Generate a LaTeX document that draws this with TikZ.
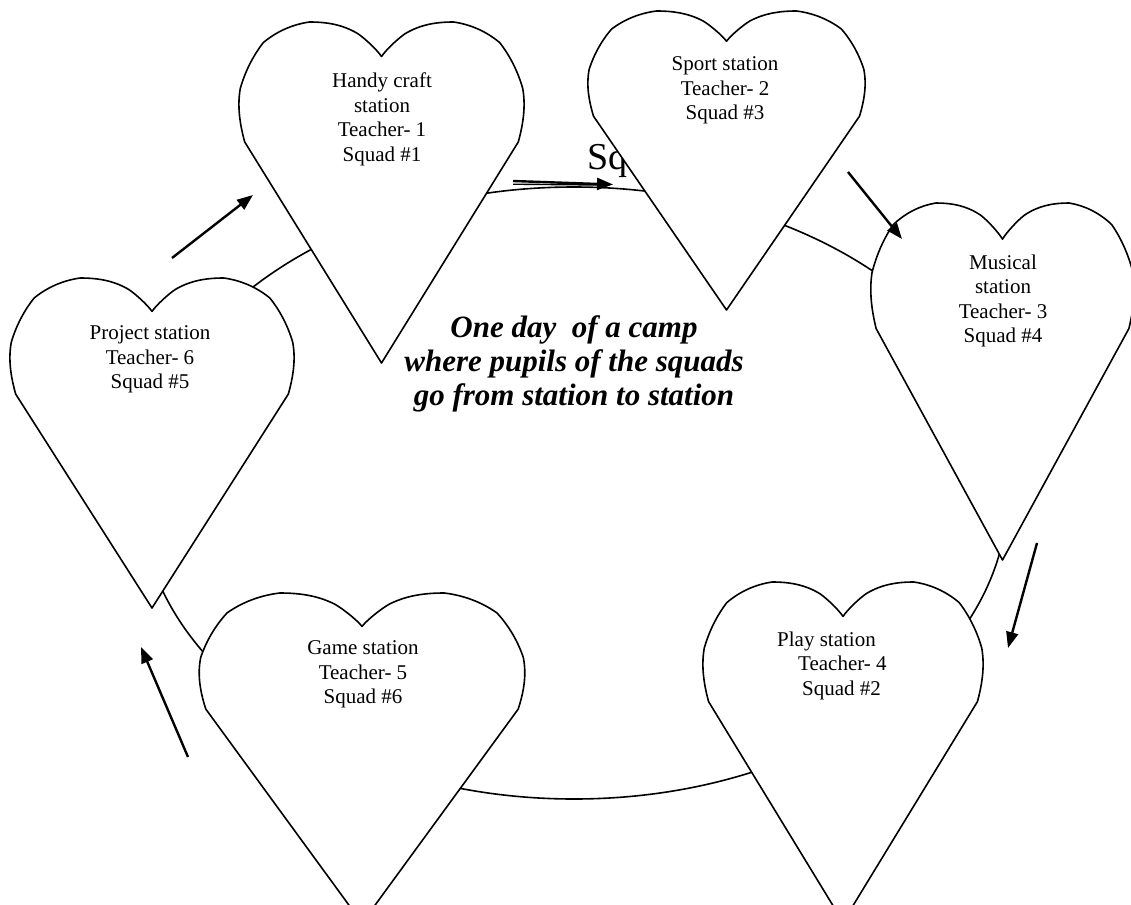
\documentclass[tikz,border=0pt]{standalone}
\usepackage{fontspec}
\setmainfont{Liberation Serif}
\usetikzlibrary{arrows.meta}
\tikzset{
  heartline/.style={draw=black, line width=1.6pt, fill=white, line join=round},
  ring/.style={draw=black, line width=1.6pt},
  arr/.style={line width=2.4pt, -{Triangle[length=16pt,width=12pt]}},
  lbl/.style={inner sep=0pt, align=center, anchor=north, font=\fontsize{21}{24.5}\selectfont},
  heart/.pic={
    \path[heartline] (108,21.87)
      .. controls (104.51,17.46) and (95.29,10.18) .. (90.15,7.30)
      .. controls (78.65,1.52) and (66.85,0) .. (54.15,0)
      .. controls (41.75,1.52) and (29.95,5.75) .. (19.67,13.05)
      .. controls (11.50,21.87) and (5.75,32.22) .. (2.42,42.20)
      .. controls (0,54.10) and (2.42,65.60) .. (5.75,75.97)
      -- (108,216) -- (210.25,75.97)
      .. controls (213.58,65.60) and (216,54.10) .. (213.58,42.20)
      .. controls (210.25,32.22) and (204.50,21.87) .. (196.33,13.05)
      .. controls (186.05,5.75) and (174.25,1.52) .. (161.85,0)
      .. controls (149.15,0) and (137.35,1.52) .. (125.85,7.30)
      .. controls (120.71,10.18) and (111.49,17.46) .. (108,21.87) -- cycle;
  }
}
\begin{document}
\begin{tikzpicture}[x=1pt,y=-1pt]
\useasboundingbox (0,0) rectangle (1131,904);
\fill[white] (0,0) rectangle (1131,904);

% circuit behind the stations
\draw[ring] (574,493) ellipse [x radius=434, y radius=306];

% partly hidden label
\node[inner sep=0pt, anchor=base west, font=\fontsize{38}{40}\selectfont] (sq) at (587,170) {Sq};

% hearts
\pic[shift={(237,22)}, xscale=289/216, yscale=341/216] {heart};
\pic[shift={(586,11)}, xscale=281/216, yscale=299/216] {heart};
\pic[shift={(869,203)}, xscale=267/216, yscale=357/216] {heart};
\pic[shift={(701,582)}, xscale=284/216, yscale=340/216] {heart};
\pic[shift={(197,593)}, xscale=330/216, yscale=330/216] {heart};
\pic[shift={(8,278)}, xscale=288/216, yscale=330/216] {heart};

% station texts
\node[lbl] (hc) at (382,72.7) {Handy craft\\station\\Teacher- 1\\Squad \#1};
\node[lbl] (sp) at (725,56.7) {Sport station\\Teacher- 2\\Squad \#3};
\node[lbl] (mu) at (1003,254.7) {Musical\\station\\Teacher- 3\\Squad \#4};
\node[lbl, align=left, anchor=north west] (pl) at (777,631.7) {Play station\\\hspace*{21pt}Teacher- 4\\\hspace*{25pt}Squad \#2};
\node[lbl] (ga) at (363,640.7) {Game station\\Teacher- 5\\Squad \#6};
\node[lbl] (pr) at (150,325.7) {Project station\\Teacher- 6\\Squad \#5};

% title
\node[inner sep=0pt, align=center, anchor=north, font=\fontsize{31}{34}\selectfont\bfseries\itshape] (title) at (574,315.5)
  {One day\ \ of a camp\\where pupils of the squads\\go from station to station};

% arrows
\coordinate (a1s) at (172,258); \coordinate (a1e) at (253,195);
\coordinate (a2s) at (513,181); \coordinate (a2e) at (613,184.5);
\coordinate (a2b) at (513,184.2); \coordinate (a2c) at (600,185);
\coordinate (a3s) at (848,172); \coordinate (a3e) at (902,239);
\coordinate (a4s) at (1037,543); \coordinate (a4e) at (1008,648);
\coordinate (a5s) at (188,757); \coordinate (a5e) at (141,647);
\draw[arr] (a1s) -- (a1e);
\draw[arr] (a2s) -- (a2e);
\draw[line width=1.4pt] (a2b) -- (a2c);
\draw[arr] (a3s) -- (a3e);
\draw[arr] (a4s) -- (a4e);
\draw[arr] (a5s) -- (a5e);
\end{tikzpicture}
\end{document}
